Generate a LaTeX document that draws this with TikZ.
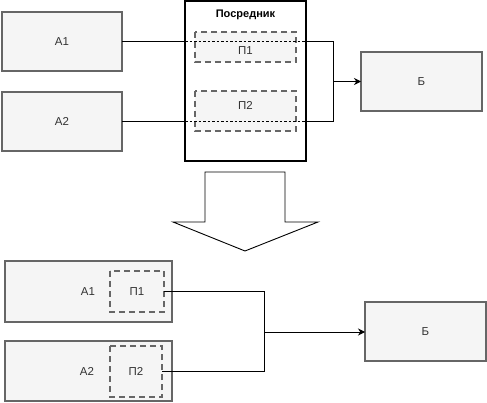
\documentclass[tikz,border=0pt]{standalone}
\usepackage{fontspec}
\setmainfont{Liberation Sans}
\usetikzlibrary{arrows.meta}
\definecolor{boxfill}{HTML}{F5F5F5}
\definecolor{boxline}{HTML}{666666}
\definecolor{txt}{HTML}{333333}
\begin{document}
\begin{tikzpicture}[x=1pt,y=-1pt,
  gbox/.style={draw=boxline,fill=boxfill,line width=1.6pt,text=txt,font=\fontsize{11.5}{13}\selectfont},
  pbox/.style={draw=boxline,fill=boxfill,line width=1.6pt,dash pattern=on 6pt off 4pt,text=txt,font=\fontsize{11.5}{13}\selectfont},
  lbl/.style={text=txt,font=\fontsize{11.5}{13}\selectfont},
  conn/.style={line width=0.9pt,draw=black},
  arr/.style={conn,-{Stealth[length=7pt,width=7pt]}}]
\useasboundingbox (0,0) rectangle (487,403);
% top part
\path[gbox] (2,12) rectangle (122,71) node[midway] (A1t) {А1};
\path[gbox] (2,92) rectangle (122,151) node[midway] (A2t) {А2};
\coordinate (A1e) at (122,41.5);
\coordinate (A2e) at (122,121.5);
\path[gbox] (361,52) rectangle (482,111) node[midway] (Bt) {Б};
\coordinate (Btw) at (361,81.5);
\draw[line width=2pt,fill=white] (185,1) rectangle (306,161);
\coordinate (Mw) at (185,0);
\coordinate (Me) at (306,0);
\node[font=\bfseries\fontsize{11}{13}\selectfont] (Mt) at (245.5,15) {Посредник};
\path[pbox] (195,32) rectangle (296,62);
\path[pbox] (195,91) rectangle (296,131);
\node[lbl] (P1t) at (245.5,51) {П1};
\node[lbl] (P2t) at (245.5,105) {П2};
\coordinate (J) at (333,81.5);
\draw[conn] (A1e) -- (A1e -| Mw);
\draw[conn,dash pattern=on 2.5pt off 2pt] (A1e -| Mw) -- (A1e -| Me);
\draw[conn] (A1e -| Me) -| (J);
\draw[conn] (A2e) -- (A2e -| Mw);
\draw[conn,dash pattern=on 2.5pt off 2pt] (A2e -| Mw) -- (A2e -| Me);
\draw[conn] (A2e -| Me) -| (J);
\draw[arr] (J) -- (Btw);
% big arrow
\draw[line width=0.9pt,fill=white] (205,172) -- (285,172) -- (285,222) -- (318,222) -- (245,251) -- (173,222) -- (205,222) -- cycle;
% bottom part
\path[gbox] (5,261) rectangle (172,322);
\path[gbox] (5,341) rectangle (172,401);
\node[lbl] (A1b) at (88,291.5) {А1};
\node[lbl] (A2b) at (87,371) {А2};
\path[pbox] (110,271) rectangle (164,312) node[midway] (P1b) {П1};
\path[pbox] (110,346) rectangle (162,397) node[midway] (P2b) {П2};
\coordinate (P1be) at (164,291.5);
\coordinate (P2be) at (162,371.5);
\path[gbox] (365,302) rectangle (486,361) node[midway] (Bb) {Б};
\coordinate (Bbw) at (365,332);
\coordinate (Jb) at (264,332);
\draw[conn] (P1be) -| (Jb);
\draw[conn] (P2be) -| (Jb);
\draw[arr] (Jb) -- (Bbw);
\end{tikzpicture}
\end{document}
